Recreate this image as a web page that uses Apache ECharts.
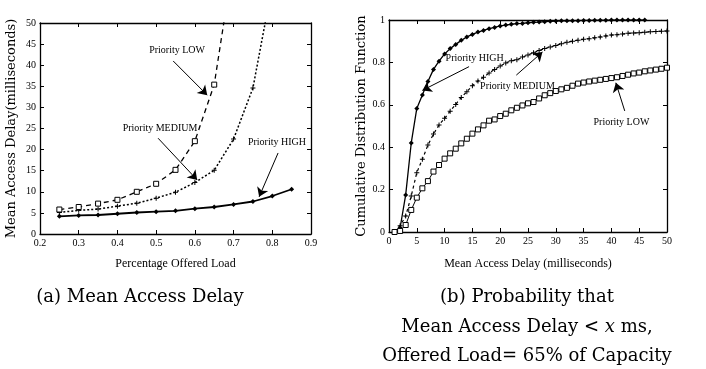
<!DOCTYPE html>
<html><head><meta charset="utf-8">
<script src="https://cdn.jsdelivr.net/npm/echarts@6/dist/echarts.min.js"></script>
<style>html,body{margin:0;padding:0;background:#fff}#c{width:706px;height:369px}</style>
</head><body><div id="c"></div>
<script>
// ---- Panel (a): Mean access delay vs offered load ----
const loadTicks = [0.2,0.3,0.4,0.5,0.6,0.7,0.8,0.9];
const loadPct = [0.25,0.3,0.35,0.4,0.45,0.5,0.55,0.6,0.65,0.7,0.75,0.8,0.85];
const delayHigh   = [4.2,4.4,4.5,4.8,5.1,5.3,5.5,6.0,6.4,7.0,7.7,9.0,10.6];
const delayMedium = [5.1,5.6,5.9,6.6,7.3,8.5,9.9,12.2,15.1,22.5,34.6,59];
const delayLow    = [5.8,6.4,7.2,8.1,10.0,11.9,15.2,22.0,35.4,65];

// ---- Panel (b): CDF of mean access delay at 65% load ----
const delayMs = [1,2,3,4,5,6,7,8,9,10,11,12,13,14,15,16,17,18,19,20,21,22,23,24,25,26,27,28,29,30,31,32,33,34,35,36,37,38,39,40,41,42,43,44,45,46,47,48,49,50];
const cdfHigh = [0,0.02,0.175,0.42,0.583,0.646,0.71,0.767,0.806,0.84,
  0.865,0.885,0.904,0.92,0.932,0.943,0.951,0.959,0.965,0.972,
  0.976,0.98,0.983,0.984,0.987,0.989,0.99,0.992,0.994,0.995,
  0.996,0.996,0.997,0.997,0.998,0.998,0.999,0.999,0.999,1,
  1,1,1,1,1,1];
const cdfMedium = [0,0.03,0.075,0.17,0.28,0.343,0.41,0.462,0.505,0.536,
  0.57,0.602,0.635,0.662,0.69,0.712,0.73,0.75,0.767,0.783,
  0.797,0.808,0.812,0.825,0.835,0.846,0.856,0.865,0.873,0.88,
  0.888,0.895,0.9,0.905,0.909,0.912,0.916,0.92,0.925,0.929,
  0.931,0.934,0.937,0.939,0.94,0.942,0.944,0.946,0.947,0.948];
const cdfLow = [0,0.005,0.033,0.104,0.162,0.206,0.24,0.285,0.316,0.346,
  0.371,0.393,0.418,0.44,0.464,0.484,0.503,0.525,0.531,0.547,
  0.558,0.574,0.586,0.597,0.607,0.613,0.63,0.645,0.655,0.665,
  0.673,0.68,0.69,0.7,0.705,0.71,0.714,0.718,0.722,0.726,
  0.73,0.736,0.742,0.748,0.752,0.758,0.762,0.766,0.77,0.775];

const zip = (xs, ys) => ys.map((y, i) => [xs[i], y]);
const SERIF = '"Liberation Serif", "Times New Roman", serif';
const PLUS = 'path://M4,0h2v4h4v2h-4v4h-2v-4h-4v-2h4z';

function axisBase(extra) {
  return Object.assign({
    type: 'value',
    axisLine: { show: true, onZero: false, lineStyle: { color: '#000', width: 1.3 } },
    axisTick: { show: true, inside: true, length: 4, lineStyle: { color: '#000' } },
    axisLabel: { show: true, color: '#000', fontFamily: SERIF, fontSize: 10, margin: 4 },
    splitLine: { show: false }
  }, extra);
}
function noLabel(a) { a.axisLabel = { show: false }; return a; }

function arrowMark(from, to) {
  return { silent: true, symbol: ['none', 'arrow'], symbolSize: 9, label: { show: false },
    itemStyle: { color: '#000' },
    lineStyle: { color: '#000', width: 1, type: 'solid' },
    emphasis: { disabled: true },
    data: [[{ coord: from }, { coord: to }]] };
}
function noteMark(text, at) {
  return { silent: true, symbol: 'circle', symbolSize: 1, itemStyle: { color: 'rgba(0,0,0,0)' },
    label: { show: true, formatter: text, color: '#000', fontFamily: SERIF, fontSize: 10, position: 'inside' },
    data: [{ coord: at }] };
}

const chart = echarts.init(document.getElementById('c'), null, { renderer: 'canvas' });
chart.setOption({
  backgroundColor: '#fff',
  animation: false,
  grid: [
    { left: 40, top: 23, width: 271, height: 211 },
    { left: 389, top: 20, width: 278, height: 212 }
  ],
  xAxis: [
    axisBase({ gridIndex: 0, position: 'bottom', min: 0.2, max: 0.9, interval: 0.1,
      name: 'Percentage Offered Load', nameLocation: 'middle', nameGap: 24,
      nameTextStyle: { fontFamily: SERIF, fontSize: 12, color: '#000' } }),
    noLabel(axisBase({ gridIndex: 0, position: 'top', min: 0.2, max: 0.9, interval: 0.1 })),
    axisBase({ gridIndex: 1, position: 'bottom', min: 0, max: 50, interval: 5,
      name: 'Mean Access Delay (milliseconds)', nameLocation: 'middle', nameGap: 26,
      nameTextStyle: { fontFamily: SERIF, fontSize: 12, color: '#000' } }),
    noLabel(axisBase({ gridIndex: 1, position: 'top', min: 0, max: 50, interval: 5 }))
  ],
  yAxis: [
    axisBase({ gridIndex: 0, position: 'left', min: 0, max: 50, interval: 5,
      name: 'Mean Access Delay(milliseconds)', nameLocation: 'middle', nameGap: 22,
      nameTextStyle: { fontFamily: '"DejaVu Serif", serif', fontSize: 13, color: '#000' } }),
    noLabel(axisBase({ gridIndex: 0, position: 'right', min: 0, max: 50, interval: 5 })),
    axisBase({ gridIndex: 1, position: 'left', min: 0, max: 1, interval: 0.2,
      name: 'Cumulative Distribution Function', nameLocation: 'middle', nameGap: 17,
      nameTextStyle: { fontFamily: '"DejaVu Serif", serif', fontSize: 13, color: '#000' } }),
    noLabel(axisBase({ gridIndex: 1, position: 'right', min: 0, max: 1, interval: 0.2 }))
  ],
  series: [
    // ----- panel (a) -----
    { type: 'line', xAxisIndex: 0, yAxisIndex: 0, clip: true, data: zip(loadPct, delayHigh),
      symbol: 'diamond', symbolSize: 5, itemStyle: { color: '#000' },
      lineStyle: { color: '#000', width: 1.8, type: 'solid' },
      markLine: arrowMark([0.815, 19.2], [0.766, 8.8]),
      markPoint: noteMark('Priority HIGH', [0.812, 21.8]) },
    { type: 'line', xAxisIndex: 0, yAxisIndex: 0, clip: true, data: zip(loadPct, delayMedium),
      symbol: PLUS, symbolSize: 5, itemStyle: { color: '#000' },
      lineStyle: { color: '#000', width: 1.5, type: [2, 2] },
      markLine: arrowMark([0.505, 22.7], [0.606, 12.8]),
      markPoint: noteMark('Priority MEDIUM', [0.51, 25.1]) },
    { type: 'line', xAxisIndex: 0, yAxisIndex: 0, clip: true, data: zip(loadPct, delayLow),
      symbol: 'rect', symbolSize: 5, itemStyle: { color: '#fff', borderColor: '#000', borderWidth: 1 },
      lineStyle: { color: '#000', width: 1.3, type: [5, 4] },
      markLine: arrowMark([0.544, 41.0], [0.632, 32.9]),
      markPoint: noteMark('Priority LOW', [0.554, 43.6]) },
    // ----- panel (b) -----
    { type: 'line', xAxisIndex: 2, yAxisIndex: 2, clip: true, data: zip(delayMs, cdfHigh),
      symbol: 'diamond', symbolSize: 5, itemStyle: { color: '#000' },
      lineStyle: { color: '#000', width: 1.3, type: 'solid' },
      markLine: arrowMark([14.4, 0.78], [6.0, 0.668]),
      markPoint: noteMark('Priority HIGH', [15.4, 0.82]) },
    { type: 'line', xAxisIndex: 2, yAxisIndex: 2, clip: true, data: zip(delayMs, cdfMedium),
      symbol: PLUS, symbolSize: 5, itemStyle: { color: '#000' },
      lineStyle: { color: '#000', width: 1.2, type: [3, 3] },
      markLine: arrowMark([22.9, 0.74], [27.6, 0.849]),
      markPoint: noteMark('Priority MEDIUM', [23.1, 0.689]) },
    { type: 'line', xAxisIndex: 2, yAxisIndex: 2, clip: true, data: zip(delayMs, cdfLow),
      symbol: 'rect', symbolSize: 5, itemStyle: { color: '#fff', borderColor: '#000', borderWidth: 1 },
      lineStyle: { color: '#000', width: 1, type: 'solid' },
      markLine: arrowMark([42.4, 0.571], [40.8, 0.704]),
      markPoint: noteMark('Priority LOW', [41.8, 0.519]) }
  ],
  graphic: [
    { type: 'text', style: { x: 140, y: 297, text: '(a) Mean Access Delay', textAlign: 'center', textVerticalAlign: 'middle', font: '18px "DejaVu Serif", serif', fill: '#000' } },
    { type: 'text', style: { x: 527, y: 297, text: '(b) Probability that', textAlign: 'center', textVerticalAlign: 'middle', font: '18px "DejaVu Serif", serif', fill: '#000' } },
    { type: 'text', style: { x: 527, y: 327, textAlign: 'center', textVerticalAlign: 'middle',
        text: '{n|Mean Access Delay < }{i|x}{n| ms,}',
        rich: { n: { font: '18px "DejaVu Serif", serif', fill: '#000' }, i: { font: 'italic 18px "DejaVu Serif", serif', fill: '#000' } } } },
    { type: 'text', style: { x: 527, y: 356, text: 'Offered Load= 65% of Capacity', textAlign: 'center', textVerticalAlign: 'middle', font: '18px "DejaVu Serif", serif', fill: '#000' } }
  ]
});
</script>
</body></html>
